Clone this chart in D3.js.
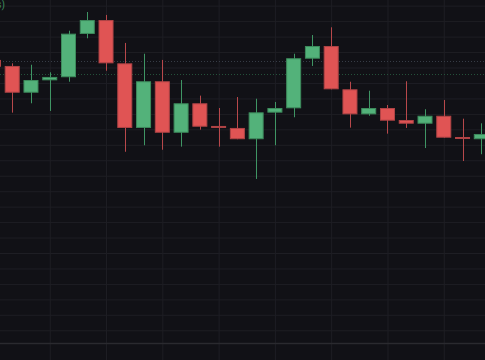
<!DOCTYPE html>
<html>
<head>
<meta charset="utf-8">
<script src="https://cdn.jsdelivr.net/npm/d3@7/dist/d3.min.js"></script>
<style>
  html, body { margin: 0; padding: 0; background: #111116; overflow: hidden; }
  svg { display: block; }
</style>
</head>
<body>
<div id="chart"></div>
<script>
// ---- data (bar index, OHLC) ----
const bars = d3.range(27);
const opens  = [214.9, 211.0, 193.7, 201.7, 203.7, 231.7, 240.7, 212.7, 170.9, 201.1, 167.8, 186.85, 172.2, 170.9, 163.6, 180.8, 183.6, 215.7, 223.9, 195.9, 179.7, 183.8, 176.05, 173.65, 178.8, 165.05, 163.6];
const highs  = [216.8, 212.7, 211.8, 206.9, 233.8, 245.9, 244.0, 225.9, 218.9, 214.9, 201.9, 191.8, 183.8, 190.9, 189.8, 187.7, 218.9, 231.0, 236.0, 200.8, 195.0, 185.75, 201.1, 183.0, 189.0, 176.9, 173.9];
const lows   = [208.4, 180.8, 186.85, 181.9, 200.8, 228.9, 207.9, 155.5, 159.7, 156.8, 158.8, 169.8, 158.8, 163.6, 137.9, 159.7, 177.8, 211.0, 195.9, 171.1, 178.8, 167.2, 170.9, 157.9, 164.6, 149.5, 153.9];
const closes = [210.5, 193.7, 201.9, 203.9, 231.9, 240.7, 212.7, 170.9, 201.1, 167.8, 186.85, 171.7, 170.9, 163.6, 181.0, 183.8, 216.0, 223.9, 195.9, 179.7, 183.8, 175.6, 173.65, 178.8, 164.6, 163.8, 167.0];
const priceTicks = d3.range(40, 251, 10);
const timeTicks = [3, 6, 9, 12, 15, 18, 21, 24];
const priceLines = [214.0, 206.0];
const legendText = "Vol (s)";

const W = 485, H = 360;
const svg = d3.select("#chart").append("svg").attr("width", W).attr("height", H);
svg.append("rect").attr("width", W).attr("height", H).attr("fill", "#111116");

const x = d3.scaleLinear().domain([0, 26]).range([-6.55, 481.3]);
const y = d3.scaleLinear().domain([250, 40]).range([5.67, 330.3]);
const step = x(1) - x(0);
const bw = step * 0.8;

// grid via axes
const gy = svg.append("g").attr("class", "ygrid")
  .call(d3.axisRight(y).tickValues(priceTicks).tickSize(W).tickFormat(""));
gy.select(".domain").remove();
gy.selectAll(".tick line").attr("stroke", "#1e1e24").attr("stroke-width", 1);

const gx = svg.append("g").attr("class", "xgrid")
  .call(d3.axisBottom(x).tickValues(timeTicks).tickSize(H).tickFormat(""));
gx.select(".domain").remove();
gx.selectAll(".tick line").attr("stroke", "#1e1e24").attr("stroke-width", 1);

// pane separator
svg.append("line").attr("x1", 0).attr("x2", W).attr("y1", 343.5).attr("y2", 343.5)
  .attr("stroke", "#2a2a2f").attr("stroke-width", 1.5);

// dotted price lines
svg.selectAll("line.pl").data(priceLines).join("line")
  .attr("class", "pl")
  .attr("x1", 0).attr("x2", W)
  .attr("y1", d => Math.round(y(d)) + 0.5).attr("y2", d => Math.round(y(d)) + 0.5)
  .attr("stroke", (d, i) => i === 0 ? "#363c46" : "#24513a")
  .attr("stroke-width", 1)
  .attr("stroke-dasharray", "1,2");

const data = bars.map(i => ({i, o: opens[i], h: highs[i], l: lows[i], c: closes[i]}));
const up = d => d.c >= d.o;
const bodyCol = d => up(d) ? "#53b27a" : "#e05454";
const edgeCol = d => up(d) ? "#3d8b5c" : "#b04446";
const wickCol = d => up(d) ? "#3f9564" : "#b8484b";

const g = svg.append("g");
g.selectAll("line.wick").data(data).join("line")
  .attr("class", "wick")
  .attr("x1", d => Math.round(x(d.i)) + 0.5).attr("x2", d => Math.round(x(d.i)) + 0.5)
  .attr("y1", d => y(d.h)).attr("y2", d => y(d.l))
  .attr("stroke", wickCol).attr("stroke-width", 1);

g.selectAll("rect.body").data(data).join("rect")
  .attr("class", "body")
  .attr("x", d => x(d.i) - bw / 2 + 0.5)
  .attr("width", bw - 1)
  .attr("y", d => y(Math.max(d.o, d.c)) + 0.5)
  .attr("height", d => Math.max(1, Math.abs(y(d.o) - y(d.c)) - 1))
  .attr("fill", bodyCol)
  .attr("stroke", edgeCol).attr("stroke-width", 1);

svg.append("text").attr("x", 5).attr("y", 8)
  .attr("text-anchor", "end")
  .attr("font-family", "Roboto, sans-serif").attr("font-size", 10)
  .attr("fill", "#3d8b5c").text(legendText);
</script>
</body>
</html>
